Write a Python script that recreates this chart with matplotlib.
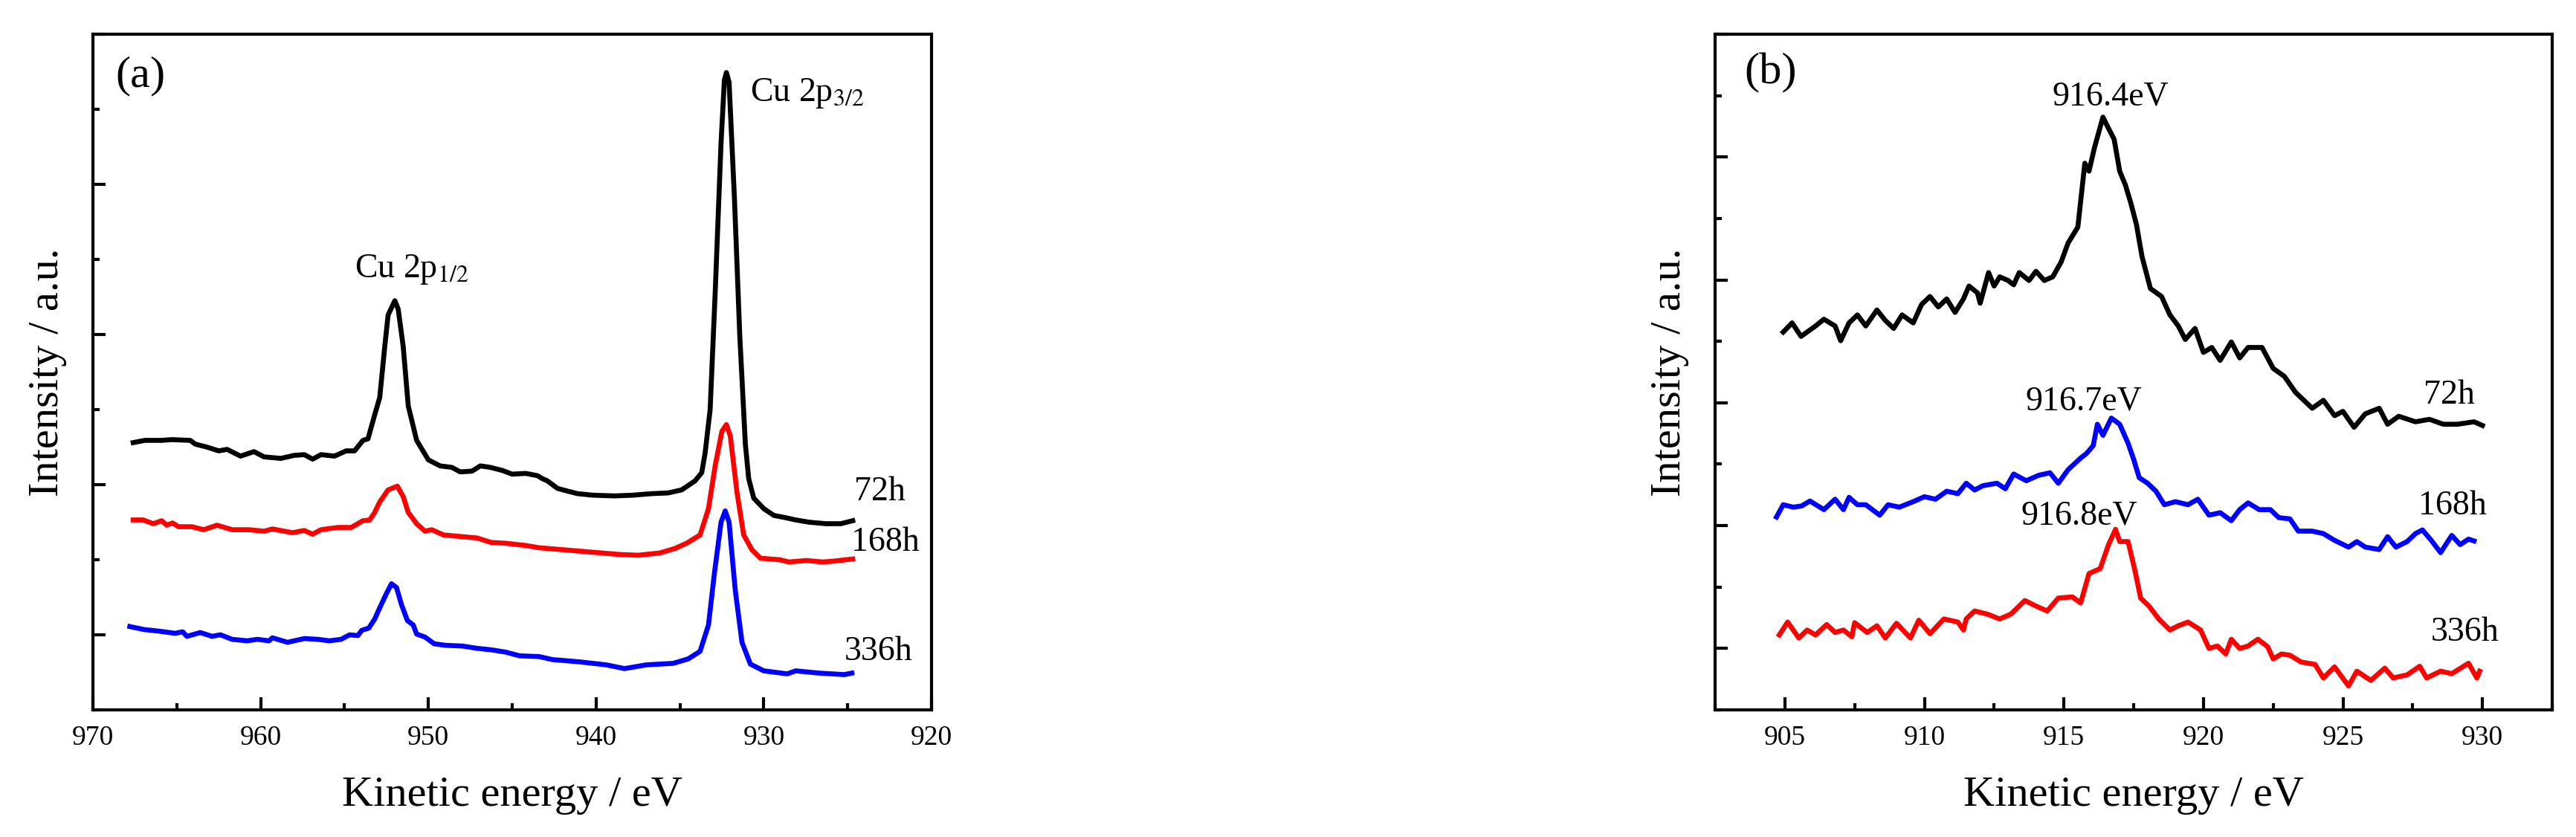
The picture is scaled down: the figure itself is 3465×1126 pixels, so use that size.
import matplotlib
matplotlib.use("Agg")
import matplotlib.pyplot as plt
from matplotlib.ticker import MultipleLocator, NullFormatter

plt.rcParams['font.family'] = ['Liberation Serif', 'DejaVu Serif']
plt.rcParams['mathtext.fontset'] = 'stix'

# ---- (a) Cu 2p wide region, kinetic energy (eV) / offset intensity (a.u.)
e72_a = [967.6, 966.9, 965.9, 965.3, 964.2, 963.9, 963.2, 962.5, 962.0, 961.2,
         960.4, 959.8, 958.8, 958.0, 957.4, 956.9, 956.4, 955.6, 954.9, 954.4,
         953.9, 953.6, 953.2, 952.9, 952.6, 952.4, 952.0, 951.8, 951.5, 951.2,
         950.7, 950.0, 949.3, 948.6, 948.1, 947.4, 946.9, 946.3, 945.6, 945.0,
         944.2, 943.5, 943.2, 942.9, 942.3, 941.8, 941.1, 940.2, 938.9, 937.8,
         936.7, 935.7, 934.9, 934.1, 933.7, 933.5, 933.2, 932.9, 932.55, 932.35,
         932.23, 932.07, 931.75, 931.43, 931.1, 930.9, 930.6, 930.0, 929.4, 928.7,
         928.1, 927.3, 926.3, 925.4, 924.7]
i72_a = [2.56, 2.59, 2.59, 2.60, 2.59, 2.54, 2.50, 2.45, 2.47, 2.38,
         2.44, 2.37, 2.35, 2.39, 2.40, 2.34, 2.40, 2.38, 2.45, 2.45,
         2.59, 2.61, 2.93, 3.16, 3.84, 4.26, 4.45, 4.34, 3.84, 3.05,
         2.59, 2.33, 2.25, 2.23, 2.17, 2.18, 2.25, 2.23, 2.19, 2.14,
         2.15, 2.12, 2.08, 2.05, 1.95, 1.92, 1.88, 1.86, 1.85, 1.86,
         1.88, 1.89, 1.93, 2.05, 2.16, 2.42, 3.00, 4.55, 6.55, 7.39,
         7.49, 7.36, 5.81, 3.97, 2.54, 2.08, 1.82, 1.68, 1.59, 1.56,
         1.53, 1.50, 1.48, 1.48, 1.52]

e168_a = [967.6, 967.0, 966.4, 965.9, 965.6, 965.25, 964.9, 964.1, 963.4, 962.6,
          961.7, 960.7, 959.8, 959.3, 958.1, 957.4, 956.9, 956.4, 955.4, 954.6,
          953.9, 953.5, 953.2, 952.9, 952.4, 951.85, 951.5, 951.2, 950.7, 950.2,
          949.8, 949.1, 948.1, 947.1, 946.25, 945.4, 945.0, 944.2, 943.4, 941.8,
          940.2, 938.6, 937.5, 936.2, 935.3, 934.6, 933.8, 933.3, 932.9, 932.5,
          932.23, 932.0, 931.6, 931.2, 930.7, 930.2, 929.05, 928.5, 927.45, 926.5,
          925.9, 924.7]
i168_a = [1.53, 1.53, 1.48, 1.52, 1.46, 1.49, 1.44, 1.44, 1.40, 1.46,
          1.40, 1.40, 1.38, 1.41, 1.36, 1.39, 1.34, 1.40, 1.43, 1.43,
          1.52, 1.53, 1.63, 1.77, 1.93, 1.98, 1.84, 1.63, 1.48, 1.38,
          1.40, 1.33, 1.31, 1.29, 1.23, 1.22, 1.21, 1.19, 1.16, 1.13,
          1.10, 1.07, 1.06, 1.09, 1.15, 1.22, 1.33, 1.68, 2.25, 2.71,
          2.80, 2.65, 1.90, 1.33, 1.13, 1.02, 1.00, 0.97, 0.99, 0.97,
          0.98, 1.01]

e336_a = [967.8, 966.95, 966.1, 965.1, 964.65, 964.4, 963.6, 962.9, 962.4, 961.7,
          960.8, 960.2, 959.5, 959.3, 958.4, 957.4, 956.6, 955.9, 955.2, 954.7,
          954.2, 953.97, 953.55, 953.2, 952.9, 952.5, 952.2, 951.9, 951.6, 951.25,
          950.9, 950.7, 950.2, 949.65, 948.97, 947.95, 947.1, 946.25, 945.4, 944.55,
          943.4, 942.6, 941.0, 939.4, 938.3, 937.0, 935.4, 934.5, 933.8, 933.3,
          932.95, 932.55, 932.3, 932.07, 931.7, 931.3, 930.8, 930.0, 928.6, 928.1,
          926.7, 925.2, 924.75]
i336_a = [0.11, 0.07, 0.05, 0.02, 0.04, -0.02, 0.03, -0.02, 0.00, -0.06,
          -0.08, -0.06, -0.08, -0.04, -0.10, -0.05, -0.06, -0.08, -0.06, 0.00,
          -0.01, 0.06, 0.09, 0.21, 0.36, 0.55, 0.68, 0.63, 0.40, 0.19,
          0.13, 0.01, -0.03, -0.12, -0.14, -0.15, -0.18, -0.20, -0.23, -0.28,
          -0.29, -0.33, -0.36, -0.40, -0.45, -0.40, -0.38, -0.32, -0.22, 0.13,
          0.81, 1.50, 1.65, 1.50, 0.59, -0.10, -0.39, -0.48, -0.52, -0.48,
          -0.51, -0.53, -0.51]

# ---- (b) satellite region
e72_b = [904.94, 905.26, 905.58, 906.1, 906.4, 906.8, 907.0, 907.3, 907.6, 907.9,
         908.3, 908.6, 908.9, 909.2, 909.6, 909.9, 910.2, 910.5, 910.8, 911.1,
         911.4, 911.6, 911.9, 912.0, 912.3, 912.5, 912.7, 913.0, 913.2, 913.4,
         913.75, 914.0, 914.3, 914.6, 914.9, 915.15, 915.5, 915.75, 915.9, 916.1,
         916.4, 916.55, 916.8, 917.0, 917.2, 917.4, 917.6, 917.8, 918.1, 918.5,
         918.8, 919.1, 919.35, 919.7, 920.0, 920.3, 920.6, 921.0, 921.3, 921.6,
         922.1, 922.5, 922.9, 923.3, 923.9, 924.3, 924.7, 925.0, 925.4, 925.8,
         926.3, 926.6, 927.0, 927.6, 928.1, 928.6, 929.1, 929.7, 930.0]
i72_b = [5.15, 5.30, 5.08, 5.25, 5.36, 5.25, 5.01, 5.30, 5.43, 5.25,
         5.51, 5.34, 5.21, 5.43, 5.30, 5.60, 5.73, 5.56, 5.69, 5.47,
         5.69, 5.90, 5.79, 5.62, 6.12, 5.90, 6.05, 5.99, 5.92, 6.12,
         5.99, 6.14, 5.99, 6.05, 6.29, 6.60, 6.86, 7.90, 7.77, 8.16,
         8.65, 8.51, 8.29, 7.77, 7.55, 7.25, 6.90, 6.38, 5.86, 5.73,
         5.43, 5.25, 5.03, 5.21, 4.82, 4.90, 4.69, 4.99, 4.73, 4.90,
         4.90, 4.56, 4.43, 4.17, 3.91, 4.04, 3.79, 3.86, 3.60, 3.82,
         3.91, 3.65, 3.78, 3.69, 3.73, 3.65, 3.65, 3.69, 3.63]

e168_b = [904.7, 904.94, 905.3, 905.6, 905.9, 906.4, 906.8, 907.1, 907.3, 907.6,
          907.9, 908.4, 908.7, 909.1, 909.6, 910.0, 910.4, 910.8, 911.2, 911.5,
          911.8, 912.1, 912.6, 912.9, 913.2, 913.65, 914.1, 914.5, 914.8, 915.15,
          915.6, 915.8, 916.05, 916.2, 916.4, 916.7, 917.0, 917.3, 917.5, 917.7,
          918.0, 918.3, 918.6, 919.0, 919.45, 919.8, 920.2, 920.6, 921.0, 921.3,
          921.6, 922.0, 922.4, 922.7, 923.1, 923.4, 923.9, 924.3, 924.7, 925.2,
          925.5, 925.8, 926.3, 926.6, 926.9, 927.3, 927.6, 927.85, 928.2, 928.5,
          928.9, 929.2, 929.5, 929.7]
i168_b = [2.14, 2.34, 2.30, 2.32, 2.40, 2.26, 2.43, 2.26, 2.46, 2.34,
          2.34, 2.17, 2.34, 2.30, 2.39, 2.47, 2.43, 2.56, 2.52, 2.69,
          2.58, 2.65, 2.69, 2.60, 2.84, 2.73, 2.82, 2.86, 2.69, 2.91,
          3.10, 3.17, 3.30, 3.65, 3.47, 3.75, 3.65, 3.34, 3.08, 2.78,
          2.69, 2.56, 2.34, 2.39, 2.34, 2.43, 2.17, 2.21, 2.08, 2.26,
          2.37, 2.26, 2.26, 2.13, 2.11, 1.91, 1.91, 1.87, 1.76, 1.65,
          1.74, 1.65, 1.61, 1.82, 1.65, 1.74, 1.87, 1.93, 1.74, 1.56,
          1.84, 1.69, 1.78, 1.75]

e336_b = [904.8, 905.1, 905.5, 905.8, 906.1, 906.5, 906.8, 907.1, 907.4, 907.5,
          907.95, 908.3, 908.6, 909.0, 909.5, 909.8, 910.2, 910.7, 911.2, 911.4,
          911.5, 911.8, 912.25, 912.7, 913.1, 913.6, 914.0, 914.4, 914.8, 915.3,
          915.6, 915.9, 916.3, 916.6, 916.85, 917.0, 917.3, 917.55, 917.75, 918.05,
          918.4, 918.8, 919.1, 919.45, 919.9, 920.2, 920.5, 920.8, 921.0, 921.3,
          921.6, 921.95, 922.3, 922.5, 922.8, 923.1, 923.5, 924.0, 924.3, 924.7,
          925.2, 925.5, 926.0, 926.5, 926.8, 927.3, 927.75, 928.0, 928.5, 928.9,
          929.5, 929.8, 929.9]
i336_b = [0.22, 0.43, 0.17, 0.30, 0.22, 0.39, 0.26, 0.30, 0.19, 0.42,
          0.26, 0.37, 0.17, 0.41, 0.17, 0.46, 0.24, 0.48, 0.43, 0.30,
          0.48, 0.61, 0.56, 0.48, 0.56, 0.78, 0.69, 0.61, 0.82, 0.84,
          0.74, 1.22, 1.30, 1.69, 1.94, 1.74, 1.74, 1.26, 0.82, 0.69,
          0.48, 0.30, 0.37, 0.43, 0.30, 0.00, 0.04, -0.09, 0.15, 0.00,
          0.04, 0.15, 0.03, -0.17, -0.09, -0.11, -0.22, -0.26, -0.48, -0.30,
          -0.61, -0.37, -0.52, -0.32, -0.48, -0.43, -0.29, -0.48, -0.37, -0.41,
          -0.24, -0.48, -0.37]

W, H = 3465, 1126
fig = plt.figure(figsize=(W / 300, H / 300), dpi=300)
ax1 = fig.add_axes([125 / W, 171 / H, 1128 / W, 909 / H])
ax2 = fig.add_axes([2307 / W, 171 / H, 1126 / W, 909 / H])

lw = 1.6
ax1.plot(e72_a, i72_a, color='black', lw=lw)
ax1.plot(e168_a, i168_a, color='red', lw=lw)
ax1.plot(e336_a, i336_a, color='blue', lw=lw)

ax2.plot(e72_b, i72_b, color='black', lw=lw)
ax2.plot(e168_b, i168_b, color='blue', lw=lw)
ax2.plot(e336_b, i336_b, color='red', lw=lw)

ax1.set_xlim(970, 920)
ax1.set_ylim(-1, 8)
ax1.xaxis.set_major_locator(MultipleLocator(10))
ax1.xaxis.set_minor_locator(MultipleLocator(5))

ax2.set_xlim(902.5, 932.5)
ax2.set_ylim(-1, 10)
ax2.xaxis.set_major_locator(MultipleLocator(5))
ax2.xaxis.set_minor_locator(MultipleLocator(2.5))

for ax in (ax1, ax2):
    ax.yaxis.set_major_locator(MultipleLocator(2))
    ax.yaxis.set_minor_locator(MultipleLocator(1))
    ax.yaxis.set_major_formatter(NullFormatter())
    ax.tick_params(which='both', direction='in', width=1.0, top=False, right=False)
    ax.tick_params(which='major', length=4)
    ax.tick_params(which='minor', length=2.1)
    ax.tick_params(axis='x', labelsize=9, pad=5)
    for s in ax.spines.values():
        s.set_linewidth(1.0)
    ax.set_xlabel('Kinetic energy / eV', fontsize=14, labelpad=8)
    ax.set_ylabel('Intensity / a.u.', fontsize=14, labelpad=5)

tfs = 11
ax1.text(0.057, 0.938, '(a)', transform=ax1.transAxes, fontsize=14.5, ha='center', va='center')
ax1.text(930.8, 7.21, r'Cu 2p$_{3/2}$', fontsize=tfs, ha='left', va='center')
ax1.text(954.4, 4.87, r'Cu 2p$_{1/2}$', fontsize=tfs, ha='left', va='center')
ax1.text(924.6, 1.9, '72h', fontsize=tfs, ha='left', va='center')
ax1.text(924.8, 1.23, '168h', fontsize=tfs, ha='left', va='center')
ax1.text(925.2, -0.23, '336h', fontsize=tfs, ha='left', va='center')

ax2.text(0.066, 0.943, '(b)', transform=ax2.transAxes, fontsize=14.5, ha='center', va='center')
ax2.text(916.66, 8.98, '916.4eV', fontsize=tfs, ha='center', va='center')
ax2.text(915.72, 4.02, '916.7eV', fontsize=tfs, ha='center', va='center')
ax2.text(915.56, 2.15, '916.8eV', fontsize=tfs, ha='center', va='center')
ax2.text(927.88, 4.12, '72h', fontsize=tfs, ha='left', va='center')
ax2.text(927.7, 2.32, '168h', fontsize=tfs, ha='left', va='center')
ax2.text(928.16, 0.26, '336h', fontsize=tfs, ha='left', va='center')

fig.savefig('out.png', dpi=300)
